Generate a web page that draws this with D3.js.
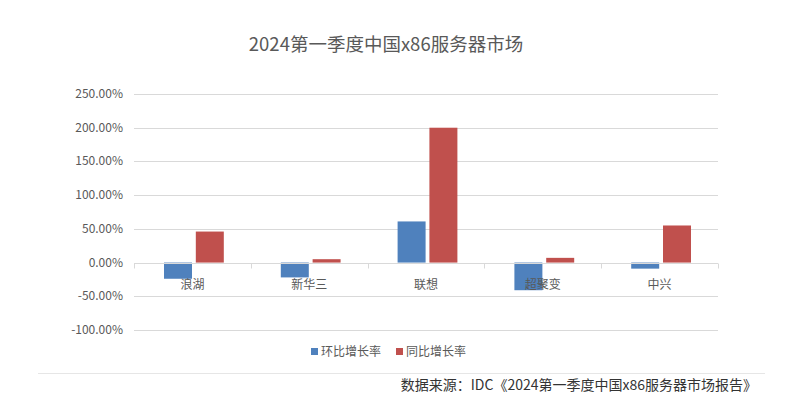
<html>
  <head>
    <meta charset="utf-8" />
    <script src="https://d3js.org/d3.v7.min.js"></script>
    <style>
      body {
        margin: 0;
        background: #fff;
        font-family: "Noto Sans CJK SC", "Noto Sans", sans-serif;
      }
      line.grid {
        stroke: #d9d9d9;
        stroke-width: 1px;
      }
      text.label {
        fill: #595959;
        font-size: 12px;
      }
    </style>
  </head>
  <body>
    <svg id="chart" width="786" height="418"></svg>
    <script>
      // values (percent)
      const companies = ["浪湖", "新华三", "联想", "超聚变", "中兴"];
      const qoq = [-24, -22, 61, -41, -9];
      const yoy = [46, 5, 200, 7, 55];
      const seriesNames = ["环比增长率", "同比增长率"];
      const seriesColors = ["#4f81bd", "#c0504d"];
      const yTicks = [-100, -50, 0, 50, 100, 150, 200, 250];

      const svg = d3.select("#chart");
      const plotLeft = 134, plotRight = 718, plotTop = 94, plotBottom = 330;

      const x = d3.scaleBand().domain(companies).range([plotLeft, plotRight]);
      const inner = d3
        .scaleBand()
        .domain([0, 1])
        .range([30, x.bandwidth() - 27])
        .paddingInner(0.12);
      const y = d3.scaleLinear().domain([-100, 250]).range([plotBottom, plotTop]);

      // title
      svg
        .append("text")
        .text("2024第一季度中国x86服务器市场")
        .attr("x", 386)
        .attr("y", 51)
        .attr("text-anchor", "middle")
        .attr("fill", "#595959")
        .style("font-size", "18.5px");

      // gridlines + y labels
      svg
        .append("g")
        .selectAll("line")
        .data(yTicks)
        .join("line")
        .attr("class", "grid")
        .attr("x1", plotLeft)
        .attr("x2", plotRight)
        .attr("y1", (d) => Math.round(y(d)) + 0.5)
        .attr("y2", (d) => Math.round(y(d)) + 0.5);

      svg
        .append("g")
        .selectAll("text")
        .data(yTicks)
        .join("text")
        .attr("class", "label")
        .attr("x", 123)
        .attr("y", (d) => y(d) + 4)
        .attr("text-anchor", "end")
        .text((d) => d.toFixed(2) + "%");

      // bars
      const rows = companies.map((c, i) => ({ c: c, vals: [qoq[i], yoy[i]] }));
      const groups = svg
        .append("g")
        .selectAll("g")
        .data(rows)
        .join("g")
        .attr("transform", (d) => "translate(" + x(d.c) + ",0)");
      groups
        .selectAll("rect")
        .data((d) => d.vals.map((v, j) => ({ v: v, j: j })))
        .join("rect")
        .attr("x", (d) => inner(d.j))
        .attr("width", inner.bandwidth())
        .attr("y", (d) => y(Math.max(0, d.v)))
        .attr("height", (d) => Math.abs(y(d.v) - y(0)))
        .attr("fill", (d) => seriesColors[d.j]);

      // category axis at zero
      const xAxis = svg
        .append("g")
        .attr("transform", "translate(0," + (Math.round(y(0)) + 0.5) + ")");
      xAxis
        .append("line")
        .attr("x1", plotLeft)
        .attr("x2", plotRight)
        .attr("stroke", "#d9d9d9");
      xAxis
        .selectAll("line.tick")
        .data(d3.range(companies.length + 1))
        .join("line")
        .attr("class", "tick")
        .attr("x1", (i) => Math.round(plotLeft + i * x.step()) + 0.5)
        .attr("x2", (i) => Math.round(plotLeft + i * x.step()) + 0.5)
        .attr("y1", 0)
        .attr("y2", 5)
        .attr("stroke", "#d9d9d9");
      xAxis
        .selectAll("text")
        .data(companies)
        .join("text")
        .attr("class", "label")
        .attr("x", (d) => x(d) + x.bandwidth() / 2)
        .attr("y", 25)
        .attr("text-anchor", "middle")
        .text((d) => d);

      // legend
      const legend = svg.append("g").attr("transform", "translate(311,352)");
      const items = legend
        .selectAll("g")
        .data(seriesNames)
        .join("g")
        .attr("transform", (d, i) => "translate(" + i * 85 + ",0)");
      items
        .append("rect")
        .attr("x", 0)
        .attr("y", -4)
        .attr("width", 7)
        .attr("height", 7)
        .attr("fill", (d, i) => seriesColors[i]);
      items
        .append("text")
        .attr("class", "label")
        .attr("x", 10)
        .attr("y", 4)
        .text((d) => d);

      // footer
      svg
        .append("line")
        .attr("x1", 38)
        .attr("x2", 765)
        .attr("y1", 373.5)
        .attr("y2", 373.5)
        .attr("stroke", "#e6e6e6");
      svg
        .append("text")
        .text("数据来源：IDC《2024第一季度中国x86服务器市场报告》")
        .attr("x", 757)
        .attr("y", 390)
        .attr("text-anchor", "end")
        .attr("fill", "#333")
        .style("font-size", "14px");
    </script>
  </body>
</html>
